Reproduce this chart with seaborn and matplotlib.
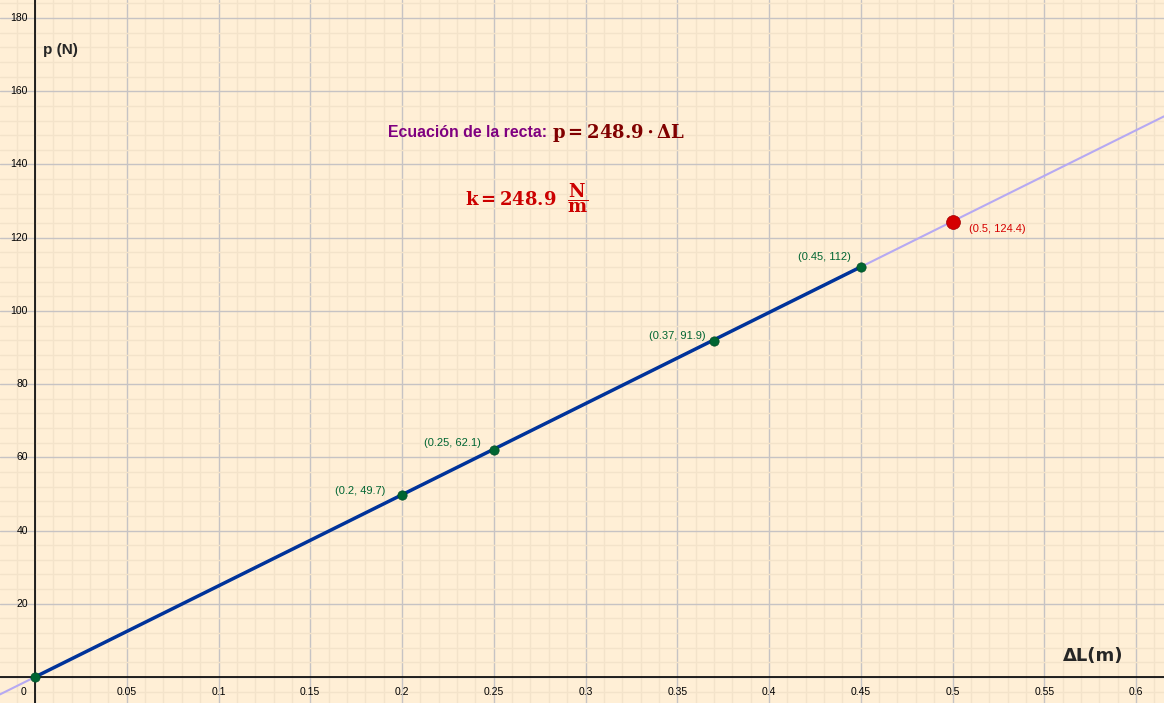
import matplotlib
matplotlib.use("Agg")
import matplotlib.pyplot as plt
import seaborn as sns
import numpy as np
import pandas as pd
from matplotlib.ticker import MultipleLocator, NullFormatter

# measured points (elongation in m, force in N)
dl = [0, 0.2, 0.25, 0.37, 0.45]
p = [0, 49.7, 62.1, 91.9, 112]
labels = ["", "(0.2, 49.7)", "(0.25, 62.1)", "(0.37, 91.9)", "(0.45, 112)"]
# predicted point
dl_pred = [0.5]
p_pred = [124.4]
pred_label = "(0.5, 124.4)"
k = 248.9

x_ticks = [0.05, 0.1, 0.15, 0.2, 0.25, 0.3, 0.35, 0.4, 0.45, 0.5, 0.55, 0.6]
y_ticks = [20, 40, 60, 80, 100, 120, 140, 160, 180]

bg = "#FFEFD6"
sns.set_style("white", {"axes.facecolor": bg})
plt.rcParams["font.family"] = ["Liberation Sans", "DejaVu Sans"]
plt.rcParams["mathtext.fontset"] = "dejavuserif"

fig = plt.figure(figsize=(11.64, 7.03), dpi=100)
fig.patch.set_facecolor(bg)
ax = fig.add_axes([0, 0, 1, 1])

xmin, xmax = -35 / 1835, 1129 / 1835
ymin, ymax = -26 / 3.661, 677 / 3.661
ax.set_xlim(xmin, xmax)
ax.set_ylim(ymin, ymax)

# grid
ax.xaxis.set_major_locator(MultipleLocator(0.05))
ax.xaxis.set_minor_locator(MultipleLocator(0.01))
ax.yaxis.set_major_locator(MultipleLocator(20))
ax.yaxis.set_minor_locator(MultipleLocator(4))
ax.xaxis.set_major_formatter(NullFormatter())
ax.yaxis.set_major_formatter(NullFormatter())
ax.grid(True, which="minor", color="#F3E3CA", linewidth=1)
ax.grid(True, which="major", color="#C6C3C4", linewidth=1)
ax.set_axisbelow(True)
ax.tick_params(which="both", length=0)

# axes through origin
ax.axhline(0, color="black", linewidth=1.2, zorder=2)
ax.axvline(0, color="black", linewidth=1.2, zorder=2)
for s in ax.spines.values():
    s.set_visible(False)

# tick labels
for t in x_ticks:
    ax.annotate(f"{t:g}", (t, 0), xytext=(0, -11), textcoords="offset points",
                ha="center", va="center", fontsize=7.5, color="black")
for t in y_ticks:
    ax.annotate(f"{t:g}", (0, t), xytext=(-5, 0), textcoords="offset points",
                ha="right", va="center", fontsize=7.5, color="black")
ax.annotate("0", (0, 0), xytext=(-8, -11), textcoords="offset points",
            ha="center", va="center", fontsize=7.5, color="black")

# extended fitted line
xl = np.array([xmin, xmax])
sns.lineplot(x=xl, y=k * xl, color="#B6A9F2", linewidth=1.5, ax=ax, zorder=3)
# fitted line over measured range
xf = np.array([dl[0], dl[-1]])
sns.lineplot(x=xf, y=k * xf, color="#00339A", linewidth=2.5, ax=ax, zorder=4)

df = pd.DataFrame({"dl": dl, "p": p})
sns.scatterplot(data=df, x="dl", y="p", color="#006532", s=45, edgecolor="#004d26",
                linewidth=0.5, ax=ax, zorder=5)
sns.scatterplot(x=dl_pred, y=p_pred, color="#D50000", s=100, edgecolor="#A00000",
                linewidth=0.5, ax=ax, zorder=5)
ax.set_xlabel("")
ax.set_ylabel("")

offsets = [(0, 0), (-12, 3), (-9, 5), (-6, 3), (-7, 7)]
for x, y, lab, off in zip(dl, p, labels, offsets):
    if lab:
        ax.annotate(lab, (x, y), xytext=off, textcoords="offset points",
                    ha="right", va="center", fontsize=8, color="#006532")
ax.annotate(pred_label, (dl_pred[0], p_pred[0]), xytext=(12, -5),
            textcoords="offset points", ha="left", va="center", fontsize=8,
            color="#D50000")

# axis labels
ax.text(0.0045, 171.3, "p (N)", fontsize=11, fontweight="bold", ha="left", va="center")
ax.text(0.5602, 5.8, "ΔL(m)", fontsize=13, ha="left", va="center",
        family="DejaVu Sans", fontweight="bold")

# equation texts
ax.text(0.1925, 148.6, "Ecuación de la recta:", fontsize=11.4, fontweight="bold",
        color="#7F0080", ha="left", va="center")
ax.text(0.2815, 148.6, r"$\mathbf{p = 248.9 \cdot \Delta L}$", fontsize=13,
        color="#800000", ha="left", va="center")
ax.text(0.2345, 130.8, r"$\mathbf{k = 248.9}\ \ \dfrac{\mathbf{N}}{\mathbf{m}}$",
        fontsize=13, color="#CC0000", ha="left", va="center")

fig.savefig("out.png", dpi=100, facecolor=bg)
